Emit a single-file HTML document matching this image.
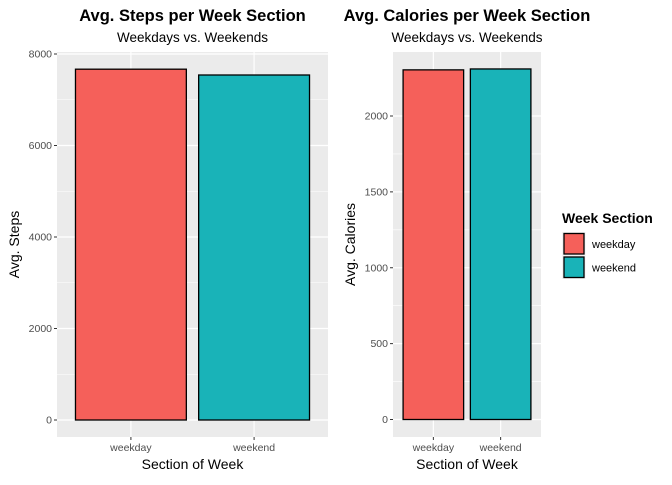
<!DOCTYPE html>
<html><head><meta charset="utf-8"><style>
body{margin:0;background:#fff}
svg text{font-family:"Liberation Sans",sans-serif}
</style></head><body>
<svg id="c" width="672" height="480" xmlns="http://www.w3.org/2000/svg"></svg>
<script>
const categories = ["weekday","weekend"];
const stepsValues = [7668, 7541];
const calorieValues = [2304, 2310];
const stepsTicks = [0,2000,4000,6000,8000];
const calTicks = [0,500,1000,1500,2000];
const colors = ["#F8766D","#00BFC4"].map((c,i)=>["#F5605A","#19B3B8"][i]);
const svg = document.getElementById('c');
const NS = "http://www.w3.org/2000/svg";
function mk(tag, attrs, parent){const e=document.createElementNS(NS,tag);for(const k in attrs)e.setAttribute(k,attrs[k]);(parent||svg).appendChild(e);return e;}
function panel(p){
  const g = mk('g',{});
  
  
  const y = v => p.y0 - (v - 0)*(p.y0 - p.yTop)/p.vTop;
  const step = (p.x1 - p.x0)/ (categories.length + 0.2);
  const x = i => p.x0 + step*(0.6 + i);
  const bg = mk('rect',{x:p.x0,y:p.pt,width:p.x1-p.x0,height:p.pb-p.pt,fill:'#EBEBEB'},g);
  
  
  // minor grid
  for(let i=0;i<p.ticks.length-1;i++){
    const m=(p.ticks[i]+p.ticks[i+1])/2;
    mk('line',{x1:p.x0,x2:p.x1,y1:y(m),y2:y(m),stroke:'#fff','stroke-width':0.6},g);
  }
  p.ticks.forEach(t=>{
    mk('line',{x1:p.x0,x2:p.x1,y1:y(t),y2:y(t),stroke:'#fff','stroke-width':1.2},g);
    mk('line',{x1:p.x0-3,x2:p.x0,y1:y(t),y2:y(t),stroke:'#333','stroke-width':1},g);
    const tl=mk('text',{x:p.x0-5,y:y(t)+3.5,'text-anchor':'end','font-size':10.5,fill:'#4D4D4D'},g);
    tl.textContent=t;
    
    
  });
  categories.forEach((c,i)=>{
    mk('line',{x1:x(i),x2:x(i),y1:p.pt,y2:p.pb,stroke:'#fff','stroke-width':1.2},g);
    mk('line',{x1:x(i),x2:x(i),y1:p.pb,y2:p.pb+3,stroke:'#333','stroke-width':1},g);
    const tl=mk('text',{x:x(i),y:p.pb+14,'text-anchor':'middle','font-size':10.5,fill:'#4D4D4D'},g);
    tl.textContent=c;
    
    
  });
  const bw = step*0.9;
  p.values.forEach((v,i)=>{
    const b=mk('rect',{x:x(i)-bw/2,y:y(v),width:bw,height:y(0)-y(v),fill:colors[i],stroke:'#000','stroke-width':1.3},g);
    
    
  });
  const cx=(p.x0+p.x1)/2;
  const t1=mk('text',{x:cx,y:21,'text-anchor':'middle','font-size':16.5,'font-weight':'bold',fill:'#000'},g);
  t1.textContent=p.title;
  
  
  const t2=mk('text',{x:cx,y:42,'text-anchor':'middle','font-size':13.5,fill:'#000'},g);
  t2.textContent='Weekdays vs. Weekends';
  
  
  const xt=mk('text',{x:cx,y:469,'text-anchor':'middle','font-size':14,fill:'#000'},g);
  xt.textContent='Section of Week';
  
  
  const yt=mk('text',{x:0,y:0,'text-anchor':'middle','font-size':14,fill:'#000',transform:`translate(${p.yTitleX},${(p.pt+p.pb)/2}) rotate(-90)`},g);
  yt.textContent=p.ytitle;
  
  
}
panel({name:'steps-panel',x0:57,x1:328,pt:52,pb:437,y0:420,yTop:54,vTop:8000,ticks:stepsTicks,values:stepsValues,title:'Avg. Steps per Week Section',ytitle:'Avg. Steps',yTitleX:19});
panel({name:'calories-panel',x0:393,x1:541,pt:52,pb:437,y0:419.5,yTop:116,vTop:2000,ticks:calTicks,values:calorieValues,title:'Avg. Calories per Week Section',ytitle:'Avg. Calories',yTitleX:355});
// legend
const lg=mk('g',{});


const lt=mk('text',{x:562,y:223,'font-size':14,'font-weight':'bold',fill:'#000'},lg);
lt.textContent='Week Section';


categories.forEach((c,i)=>{
  const yy=232+i*23.5;
  mk('rect',{x:562,y:yy,width:23.5,height:23.5,fill:'#F2F2F2'},lg);
  const k=mk('rect',{x:564,y:yy+1.5,width:20,height:20.5,fill:colors[i],stroke:'#000','stroke-width':1.3},lg);
  
  
  const tx=mk('text',{x:592,y:yy+16,'font-size':11,fill:'#000'},lg);
  tx.textContent=c;
  
  
});
</script>
</body></html>
